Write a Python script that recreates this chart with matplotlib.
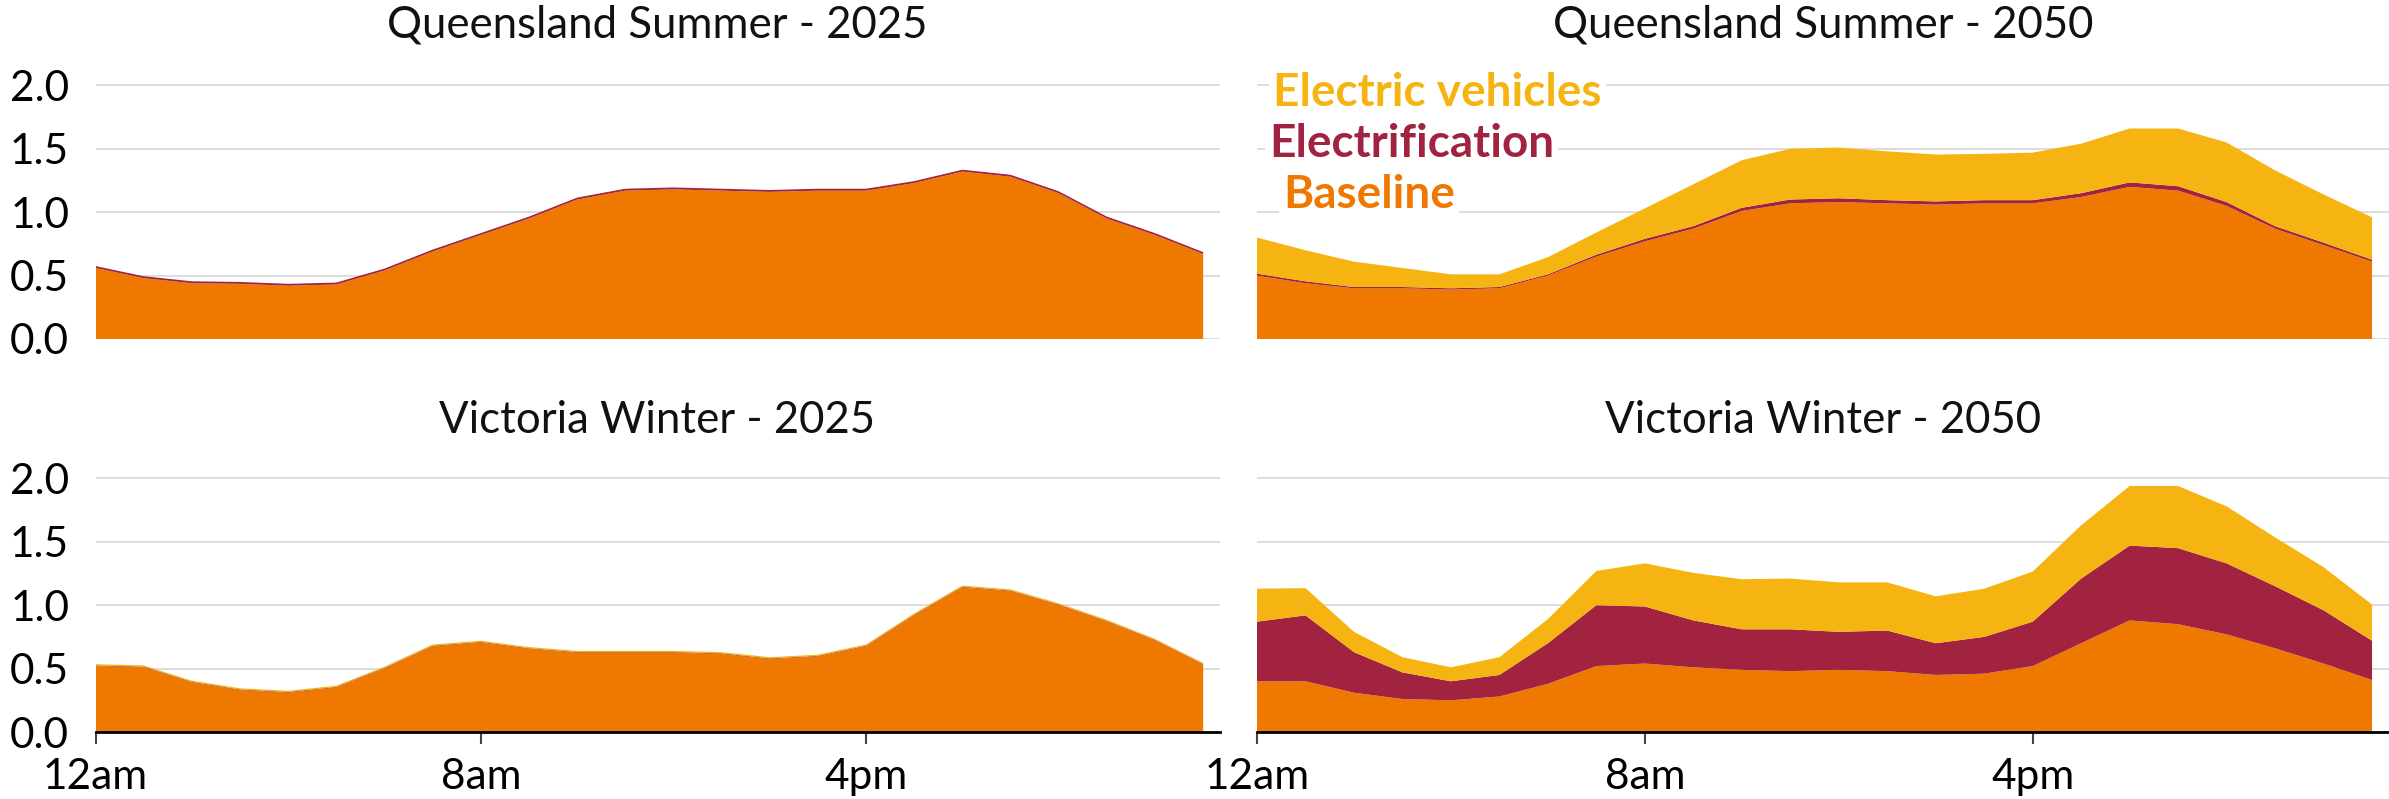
import matplotlib
matplotlib.use("Agg")
import matplotlib.pyplot as plt
import numpy as np

plt.rcParams['font.family'] = ['Lato', 'DejaVu Sans']

hours = list(range(24))
tick_hours = [0, 8, 16]
tick_labels = ["12am", "8am", "4pm"]
y_ticks = [0.0, 0.5, 1.0, 1.5, 2.0]
y_tick_labels = ["0.0", "0.5", "1.0", "1.5", "2.0"]

series_names = ["Baseline", "Electrification", "Electric vehicles"]
colors = ["#EF7800", "#A1233F", "#F5B411"]

titles = ["Queensland Summer - 2025", "Queensland Summer - 2050",
          "Victoria Winter - 2025", "Victoria Winter - 2050"]

# Queensland Summer 2025
qld25_base = [0.56, 0.48, 0.44, 0.435, 0.42, 0.43, 0.54, 0.69, 0.82, 0.95, 1.10, 1.17,
              1.18, 1.17, 1.16, 1.17, 1.17, 1.23, 1.32, 1.28, 1.15, 0.95, 0.82, 0.67]
qld25_elec = [0.015] * 24
qld25_ev = [0.0] * 24

# Queensland Summer 2050
qld50_base = [0.50, 0.44, 0.40, 0.40, 0.39, 0.40, 0.50, 0.65, 0.77, 0.87, 1.01, 1.07,
              1.08, 1.07, 1.06, 1.07, 1.07, 1.12, 1.20, 1.17, 1.05, 0.87, 0.74, 0.61]
qld50_elec = [0.015, 0.015, 0.01, 0.01, 0.01, 0.01, 0.01, 0.015, 0.02, 0.02, 0.025, 0.03,
              0.03, 0.025, 0.025, 0.025, 0.025, 0.03, 0.035, 0.035, 0.03, 0.02, 0.02, 0.015]
qld50_ev = [0.285, 0.245, 0.20, 0.15, 0.11, 0.10, 0.135, 0.175, 0.24, 0.33, 0.375, 0.40,
            0.40, 0.385, 0.37, 0.365, 0.375, 0.39, 0.425, 0.455, 0.47, 0.44, 0.38, 0.335]

# Victoria Winter 2025
vic25_base = [0.52, 0.51, 0.39, 0.33, 0.31, 0.35, 0.50, 0.675, 0.705, 0.655, 0.625, 0.625,
              0.625, 0.615, 0.575, 0.595, 0.675, 0.92, 1.14, 1.11, 1.00, 0.87, 0.72, 0.53]
vic25_elec = [0.005] * 24
vic25_ev = [0.01] * 24

# Victoria Winter 2050
vic50_base = [0.40, 0.40, 0.31, 0.26, 0.25, 0.28, 0.38, 0.52, 0.54, 0.51, 0.49, 0.48,
              0.49, 0.48, 0.45, 0.46, 0.52, 0.70, 0.88, 0.85, 0.77, 0.66, 0.54, 0.41]
vic50_elec = [0.47, 0.52, 0.32, 0.21, 0.15, 0.17, 0.32, 0.48, 0.45, 0.37, 0.32, 0.33,
              0.30, 0.32, 0.25, 0.29, 0.35, 0.51, 0.59, 0.60, 0.56, 0.49, 0.42, 0.31]
vic50_ev = [0.26, 0.215, 0.16, 0.12, 0.11, 0.14, 0.19, 0.27, 0.34, 0.375, 0.395, 0.40,
            0.39, 0.38, 0.37, 0.38, 0.395, 0.42, 0.47, 0.49, 0.45, 0.385, 0.34, 0.285]

panels = [
    (qld25_base, qld25_elec, qld25_ev),
    (qld50_base, qld50_elec, qld50_ev),
    (vic25_base, vic25_elec, vic25_ev),
    (vic50_base, vic50_elec, vic50_ev),
]

W, H = 2389, 799
fig = plt.figure(figsize=(W / 100, H / 100), dpi=100)

FS = 30.5
GRID = "#DDDDDD"

# axes rectangles in pixel terms: (left, right, y_zero_from_top)
rects = [
    (95.5, 1220, 339),
    (1257, 2389, 339),
    (95.5, 1220, 732),
    (1257, 2389, 732),
]
unit_px = 126.8
ytop = 2.1
xmax = 23.35

axes = []
for i, (l, r, y0) in enumerate(rects):
    hgt = ytop * unit_px
    ax = fig.add_axes([l / W, (H - y0) / H, (r - l) / W, hgt / H])
    base, elec, ev = panels[i]
    ax.stackplot(hours, base, elec, ev, colors=colors, linewidth=0, antialiased=True)
    ax.set_xlim(0, xmax)
    ax.set_ylim(0, ytop)
    ax.set_axisbelow(True)
    ax.yaxis.grid(True, color=GRID, linewidth=1.4)
    ax.xaxis.grid(False)
    for s in ["top", "right", "left"]:
        ax.spines[s].set_visible(False)
    ax.set_yticks(y_ticks)
    if i % 2 == 0:
        ax.set_yticklabels(y_tick_labels, fontsize=FS)
        ax.tick_params(axis="y", length=0, pad=19)
    else:
        ax.set_yticklabels([])
        ax.tick_params(axis="y", length=0, labelleft=False)
    if i >= 2:
        ax.spines["bottom"].set_visible(True)
        ax.spines["bottom"].set_color("black")
        ax.spines["bottom"].set_linewidth(2.0)
        ax.set_xticks(tick_hours)
        ax.set_xticklabels(tick_labels, fontsize=FS)
        ax.tick_params(axis="x", direction="out", length=8.6, width=1.5,
                       color="#444444", pad=10)
    else:
        ax.spines["bottom"].set_visible(False)
        ax.set_xticks([])
    axes.append(ax)

# titles
title_pos = [(657, 38), (1823, 38), (657, 433), (1823, 433)]
for t, (x, y) in zip(titles, title_pos):
    fig.text(x / W, (H - y) / H, t, ha="center", va="baseline", fontsize=31.5, color="#111111")

# direct labels in Queensland 2050 panel
ax = axes[1]
label_pos = [(0.54, 1.034), (0.25, 1.437), (0.33, 1.84)]
for name, col, (lx, ly) in zip(series_names, colors, label_pos):
    ax.text(lx, ly, name, color=col, fontsize=33, fontweight="bold", ha="left",
            va="baseline", bbox=dict(facecolor="white", edgecolor="none", pad=3))

fig.savefig("out.png", dpi=100)
